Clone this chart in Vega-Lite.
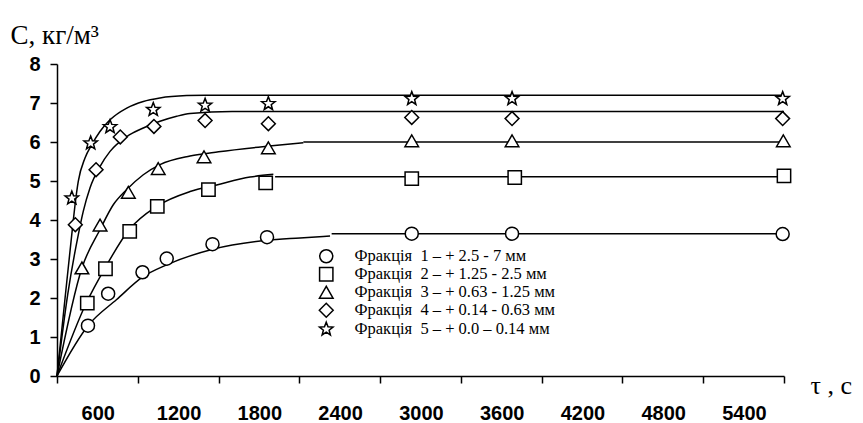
{
  "$schema": "https://vega.github.io/schema/vega-lite/v6.json",
  "width": 727,
  "height": 312,
  "autosize": {"type": "none"},
  "padding": {"left": 57, "top": 64, "right": 79, "bottom": 47},
  "background": "white",
  "config": {
    "view": {"stroke": null},
    "axis": {
      "grid": false,
      "domainColor": "black",
      "domainWidth": 1.5,
      "tickColor": "black",
      "tickWidth": 1.5,
      "labelColor": "black",
      "labelFont": "Liberation Sans",
      "labelFontWeight": "bold",
      "labelFontSize": 20,
      "titleColor": "black",
      "labelOverlap": false
    },
    "axisY": {"tickCount": 9, "tickMinStep": 1},
    "legend": {
      "labelFont": "Liberation Serif",
      "labelFontSize": 16.5,
      "labelColor": "black",
      "labelLimit": 400
    }
  },
  "datasets": {
    "pts": [
      {"f": "Фракція\u00a0 1 – + 2.5 - 7 мм", "t": 230, "c": 1.29},
      {"f": "Фракція\u00a0 1 – + 2.5 - 7 мм", "t": 380, "c": 2.11},
      {"f": "Фракція\u00a0 1 – + 2.5 - 7 мм", "t": 635, "c": 2.66},
      {"f": "Фракція\u00a0 1 – + 2.5 - 7 мм", "t": 815, "c": 3.01},
      {"f": "Фракція\u00a0 1 – + 2.5 - 7 мм", "t": 1155, "c": 3.38},
      {"f": "Фракція\u00a0 1 – + 2.5 - 7 мм", "t": 1560, "c": 3.56},
      {"f": "Фракція\u00a0 1 – + 2.5 - 7 мм", "t": 2635, "c": 3.65},
      {"f": "Фракція\u00a0 1 – + 2.5 - 7 мм", "t": 3380, "c": 3.65},
      {"f": "Фракція\u00a0 1 – + 2.5 - 7 мм", "t": 5390, "c": 3.64},
      {"f": "Фракція\u00a0 2 – + 1.25 - 2.5 мм", "t": 225, "c": 1.87},
      {"f": "Фракція\u00a0 2 – + 1.25 - 2.5 мм", "t": 360, "c": 2.75},
      {"f": "Фракція\u00a0 2 – + 1.25 - 2.5 мм", "t": 540, "c": 3.71},
      {"f": "Фракція\u00a0 2 – + 1.25 - 2.5 мм", "t": 745, "c": 4.35},
      {"f": "Фракція\u00a0 2 – + 1.25 - 2.5 мм", "t": 1125, "c": 4.78},
      {"f": "Фракція\u00a0 2 – + 1.25 - 2.5 мм", "t": 1550, "c": 4.95},
      {"f": "Фракція\u00a0 2 – + 1.25 - 2.5 мм", "t": 2635, "c": 5.06},
      {"f": "Фракція\u00a0 2 – + 1.25 - 2.5 мм", "t": 3400, "c": 5.09},
      {"f": "Фракція\u00a0 2 – + 1.25 - 2.5 мм", "t": 5400, "c": 5.13},
      {"f": "Фракція\u00a0 3 – + 0.63 - 1.25 мм", "t": 185, "c": 2.77},
      {"f": "Фракція\u00a0 3 – + 0.63 - 1.25 мм", "t": 320, "c": 3.87},
      {"f": "Фракція\u00a0 3 – + 0.63 - 1.25 мм", "t": 530, "c": 4.71},
      {"f": "Фракція\u00a0 3 – + 0.63 - 1.25 мм", "t": 752, "c": 5.32},
      {"f": "Фракція\u00a0 3 – + 0.63 - 1.25 мм", "t": 1092, "c": 5.62},
      {"f": "Фракція\u00a0 3 – + 0.63 - 1.25 мм", "t": 1570, "c": 5.85},
      {"f": "Фракція\u00a0 3 – + 0.63 - 1.25 мм", "t": 2635, "c": 6.03},
      {"f": "Фракція\u00a0 3 – + 0.63 - 1.25 мм", "t": 3380, "c": 6.03},
      {"f": "Фракція\u00a0 3 – + 0.63 - 1.25 мм", "t": 5395, "c": 6.03},
      {"f": "Фракція\u00a0 4 – + 0.14 - 0.63 мм", "t": 136, "c": 3.88},
      {"f": "Фракція\u00a0 4 – + 0.14 - 0.63 мм", "t": 290, "c": 5.29},
      {"f": "Фракція\u00a0 4 – + 0.14 - 0.63 мм", "t": 470, "c": 6.13},
      {"f": "Фракція\u00a0 4 – + 0.14 - 0.63 мм", "t": 720, "c": 6.4},
      {"f": "Фракція\u00a0 4 – + 0.14 - 0.63 мм", "t": 1100, "c": 6.55},
      {"f": "Фракція\u00a0 4 – + 0.14 - 0.63 мм", "t": 1570, "c": 6.47},
      {"f": "Фракція\u00a0 4 – + 0.14 - 0.63 мм", "t": 2635, "c": 6.63},
      {"f": "Фракція\u00a0 4 – + 0.14 - 0.63 мм", "t": 3380, "c": 6.6},
      {"f": "Фракція\u00a0 4 – + 0.14 - 0.63 мм", "t": 5390, "c": 6.6},
      {"f": "Фракція\u00a0 5 – + 0.0 – 0.14 мм", "t": 110, "c": 4.56},
      {"f": "Фракція\u00a0 5 – + 0.0 – 0.14 мм", "t": 250, "c": 5.97},
      {"f": "Фракція\u00a0 5 – + 0.0 – 0.14 мм", "t": 394, "c": 6.39},
      {"f": "Фракція\u00a0 5 – + 0.0 – 0.14 мм", "t": 715, "c": 6.83},
      {"f": "Фракція\u00a0 5 – + 0.0 – 0.14 мм", "t": 1100, "c": 6.94},
      {"f": "Фракція\u00a0 5 – + 0.0 – 0.14 мм", "t": 1570, "c": 6.98},
      {"f": "Фракція\u00a0 5 – + 0.0 – 0.14 мм", "t": 2635, "c": 7.11},
      {"f": "Фракція\u00a0 5 – + 0.0 – 0.14 мм", "t": 3380, "c": 7.11},
      {"f": "Фракція\u00a0 5 – + 0.0 – 0.14 мм", "t": 5390, "c": 7.11}
    ],
    "curves": [
      {"seg": "1a", "t": 0, "c": 0},
      {"seg": "1a", "t": 233, "c": 1.3},
      {"seg": "1a", "t": 443, "c": 1.96},
      {"seg": "1a", "t": 637, "c": 2.54},
      {"seg": "1a", "t": 815, "c": 2.85},
      {"seg": "1a", "t": 1157, "c": 3.25},
      {"seg": "1a", "t": 1558, "c": 3.48},
      {"seg": "1a", "t": 1805, "c": 3.54},
      {"seg": "1a", "t": 2028, "c": 3.59},
      {"seg": "1b", "t": 2040, "c": 3.65},
      {"seg": "1b", "t": 5400, "c": 3.65},
      {"seg": "2a", "t": 0, "c": 0},
      {"seg": "2a", "t": 220, "c": 1.89},
      {"seg": "2a", "t": 357, "c": 2.77},
      {"seg": "2a", "t": 535, "c": 3.75},
      {"seg": "2a", "t": 740, "c": 4.35},
      {"seg": "2a", "t": 988, "c": 4.73},
      {"seg": "2a", "t": 1186, "c": 4.9},
      {"seg": "2a", "t": 1434, "c": 5.1},
      {"seg": "2a", "t": 1607, "c": 5.17},
      {"seg": "2b", "t": 1620, "c": 5.11},
      {"seg": "2b", "t": 5400, "c": 5.11},
      {"seg": "3a", "t": 0, "c": 0},
      {"seg": "3a", "t": 185, "c": 2.77},
      {"seg": "3a", "t": 319, "c": 3.75},
      {"seg": "3a", "t": 418, "c": 4.39},
      {"seg": "3a", "t": 518, "c": 4.78},
      {"seg": "3a", "t": 641, "c": 5.16},
      {"seg": "3a", "t": 765, "c": 5.42},
      {"seg": "3a", "t": 988, "c": 5.64},
      {"seg": "3a", "t": 1200, "c": 5.75},
      {"seg": "3a", "t": 1558, "c": 5.89},
      {"seg": "3a", "t": 1830, "c": 5.98},
      {"seg": "3b", "t": 1830, "c": 6.0},
      {"seg": "3b", "t": 5400, "c": 6.0},
      {"seg": "4a", "t": 0, "c": 0},
      {"seg": "4a", "t": 80, "c": 2.1},
      {"seg": "4a", "t": 158, "c": 3.62},
      {"seg": "4a", "t": 195, "c": 4.22},
      {"seg": "4a", "t": 245, "c": 4.82},
      {"seg": "4a", "t": 319, "c": 5.37},
      {"seg": "4a", "t": 394, "c": 5.76},
      {"seg": "4a", "t": 518, "c": 6.14},
      {"seg": "4a", "t": 641, "c": 6.36},
      {"seg": "4a", "t": 765, "c": 6.53},
      {"seg": "4a", "t": 889, "c": 6.66},
      {"seg": "4a", "t": 988, "c": 6.73},
      {"seg": "4a", "t": 1300, "c": 6.78},
      {"seg": "4a", "t": 5400, "c": 6.78},
      {"seg": "5a", "t": 0, "c": 0},
      {"seg": "5a", "t": 60, "c": 2.0},
      {"seg": "5a", "t": 115, "c": 3.8},
      {"seg": "5a", "t": 134, "c": 4.39},
      {"seg": "5a", "t": 158, "c": 4.99},
      {"seg": "5a", "t": 208, "c": 5.59},
      {"seg": "5a", "t": 258, "c": 5.93},
      {"seg": "5a", "t": 319, "c": 6.27},
      {"seg": "5a", "t": 394, "c": 6.57},
      {"seg": "5a", "t": 518, "c": 6.87},
      {"seg": "5a", "t": 641, "c": 7.04},
      {"seg": "5a", "t": 765, "c": 7.13},
      {"seg": "5a", "t": 963, "c": 7.19},
      {"seg": "5a", "t": 1100, "c": 7.2},
      {"seg": "5a", "t": 5400, "c": 7.2}
    ]
  },
  "encoding": {
    "x": {
      "field": "t",
      "type": "quantitative",
      "scale": {"domain": [0, 5400], "nice": false, "zero": true},
      "axis": {
        "values": [0, 600, 1200, 1800, 2400, 3000, 3600, 4200, 4800, 5400],
        "labelExpr": "datum.value == 0 ? '' : format(datum.value, 'd')",
        "labelOffset": -40,
        "labelFlush": false,
        "labelOverlap": false,
        "tickSize": 7,
        "labelPadding": 20,
        "title": "τ , c",
        "titleFont": "Liberation Serif",
        "titleFontSize": 26,
        "titleFontWeight": "normal",
        "titleAngle": 0,
        "titleAlign": "left",
        "titleBaseline": "alphabetic",
        "titleX": 753,
        "titleY": 17
      }
    },
    "y": {
      "field": "c",
      "type": "quantitative",
      "scale": {"domain": [0, 8], "nice": false},
      "axis": {
        "values": [0, 1, 2, 3, 4, 5, 6, 7, 8],
        "labelExpr": "format(datum.value, 'd')",
        "tickSize": 7,
        "labelPadding": 10,
        "labelFlush": false,
        "labelOverlap": false,
        "title": "C, кг/м³",
        "titleFont": "Liberation Serif",
        "titleFontSize": 27,
        "titleFontWeight": "normal",
        "titleAngle": 0,
        "titleAlign": "left",
        "titleBaseline": "alphabetic",
        "titleX": -47,
        "titleY": -21
      }
    }
  },
  "layer": [
    {
      "data": {"name": "curves"},
      "mark": {"type": "line", "color": "black", "strokeWidth": 1.5, "interpolate": "monotone"},
      "encoding": {
        "detail": {"field": "seg", "type": "nominal"}
      }
    },
    {
      "data": {"name": "pts"},
      "mark": {"type": "point", "filled": true, "fill": "white", "stroke": "black", "strokeWidth": 1.5, "opacity": 1},
      "encoding": {
        "shape": {
          "field": "f",
          "type": "nominal",
          "scale": {
            "domain": ["Фракція\u00a0 1 – + 2.5 - 7 мм", "Фракція\u00a0 2 – + 1.25 - 2.5 мм", "Фракція\u00a0 3 – + 0.63 - 1.25 мм", "Фракція\u00a0 4 – + 0.14 - 0.63 мм", "Фракція\u00a0 5 – + 0.0 – 0.14 мм"],
            "range": ["circle", "square", "triangle-up", "diamond", "M0,-1L0.25,-0.34L0.951,-0.309L0.405,0.132L0.588,0.809L0,0.42L-0.588,0.809L-0.405,0.132L-0.951,-0.309L-0.25,-0.34Z"]
          },
          "legend": {
            "orient": "none",
            "legendX": 261,
            "legendY": 184,
            "title": null,
            "padding": 0,
            "labelFont": "Liberation Serif",
            "labelFontSize": 16.5,
            "labelColor": "black",
            "labelLimit": 400,
            "labelOffset": 20,
            "symbolStrokeColor": "black",
            "symbolFillColor": "white",
            "symbolStrokeWidth": 1.5,
            "symbolOpacity": 1,
            "rowPadding": -4
          }
        },
        "size": {
          "field": "f",
          "type": "nominal",
          "scale": {
            "domain": ["Фракція\u00a0 1 – + 2.5 - 7 мм", "Фракція\u00a0 2 – + 1.25 - 2.5 мм", "Фракція\u00a0 3 – + 0.63 - 1.25 мм", "Фракція\u00a0 4 – + 0.14 - 0.63 мм", "Фракція\u00a0 5 – + 0.0 – 0.14 мм"],
            "range": [170, 200, 256, 300, 300]
          }
        }
      }
    }
  ]
}
